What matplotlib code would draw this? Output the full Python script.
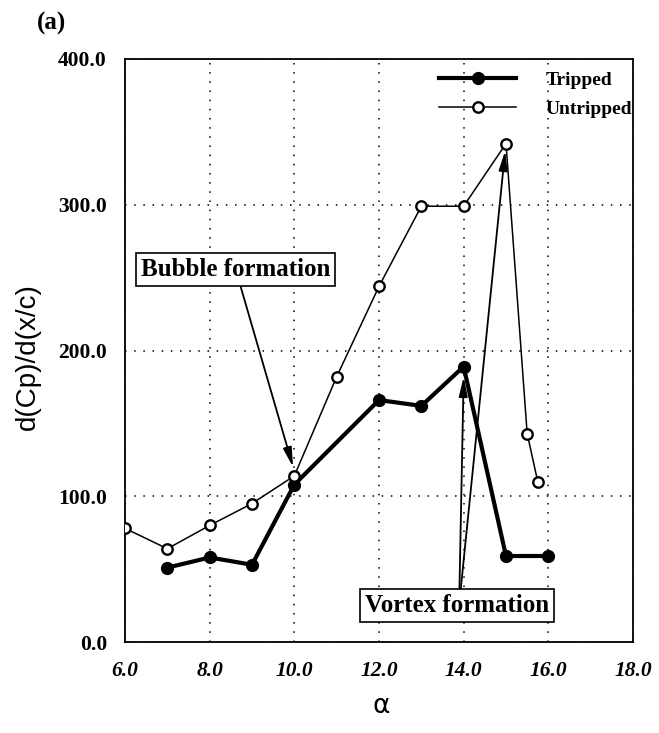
import matplotlib
matplotlib.use("Agg")
import matplotlib.pyplot as plt
import numpy as np

# pressure gradient peak vs angle of attack
alpha_untripped = [6, 7, 8, 9, 10, 11, 12, 13, 14, 15, 15.5, 15.75]
dcp_untripped = [78, 64, 80, 95, 114, 182, 244, 299, 299, 342, 143, 110]

alpha_tripped = [7, 8, 9, 10, 12, 13, 14, 15, 16]
dcp_tripped = [51, 58, 53, 108, 166, 162, 189, 59, 59]

xticks = np.arange(6, 19, 2)
yticks = np.arange(0, 401, 100)

serif = "Liberation Serif"

fig = plt.figure(figsize=(6.59, 7.33), dpi=100)
ax = fig.add_axes([125/659, 1 - 642/733, 508/659, 583/733])

ax.plot(alpha_tripped, dcp_tripped, color="black", lw=3.0, marker="o",
        ms=8.5, mfc="black", mec="black", label="Tripped", zorder=3)
ax.plot(alpha_untripped, dcp_untripped, color="black", lw=1.1, marker="o",
        ms=7.5, mfc="white", mec="black", mew=1.7, label="Untripped", zorder=4)

ax.set_xlim(6, 18)
ax.set_ylim(0, 400)
ax.set_xticks(xticks)
ax.set_yticks(yticks)
ax.set_xticklabels(["%.1f" % v for v in xticks], fontfamily=serif,
                   fontweight="bold", fontstyle="italic", fontsize=15.5)
ax.set_yticklabels(["%.1f" % v for v in yticks], fontfamily=serif,
                   fontweight="bold", fontsize=15.5)
ax.tick_params(axis="both", length=0)
ax.tick_params(axis="x", pad=14)
ax.tick_params(axis="y", pad=13)
ax.grid(True, color="black", lw=1.1, linestyle=(0, (1, 5)))
for s in ax.spines.values():
    s.set_linewidth(1.3)

ax.set_ylabel("d(Cp)/d(x/c)", fontfamily="Liberation Sans", fontsize=20)
ax.yaxis.label.set_verticalalignment("center")
ax.yaxis.set_label_coords(-0.191, 0.489)
ax.set_xlabel("\u03b1", fontfamily="DejaVu Sans", fontsize=19)
ax.xaxis.label.set_verticalalignment("center")
ax.xaxis.set_label_coords(0.505, -0.11)

leg = ax.legend(loc="upper right", bbox_to_anchor=(1.012, 0.99),
                frameon=False, borderaxespad=0, borderpad=0.35,
                handlelength=4.0, handletextpad=1.5, labelspacing=0.55,
                prop={"family": serif, "weight": "bold", "size": 14})

box = dict(boxstyle="square,pad=0.2", fc="white", ec="black", lw=1.2)
arrow = dict(arrowstyle="-|>,head_length=0.9,head_width=0.2", color="black",
             lw=1.3, shrinkA=0, shrinkB=0)

ax.text(8.61, 255.6, "Bubble formation", ha="center", va="center",
        fontfamily=serif, fontweight="bold", fontsize=18, bbox=box, zorder=6)
ax.annotate("", xy=(9.97, 120), xytext=(8.73, 244), arrowprops=arrow,
            fontsize=13, zorder=5)

ax.text(13.84, 24.7, "Vortex formation", ha="center", va="center",
        fontfamily=serif, fontweight="bold", fontsize=18, bbox=box, zorder=6)
ax.annotate("", xy=(14.0, 182), xytext=(13.9, 36), arrowprops=arrow,
            fontsize=13, zorder=5)
ax.annotate("", xy=(14.98, 337), xytext=(13.93, 36), arrowprops=arrow,
            fontsize=13, zorder=5)

fig.text(52/659, 1 - 23/733, "(a)", ha="center", va="center",
         fontfamily=serif, fontweight="bold", fontsize=18)

fig.savefig("out.png", dpi=100)
